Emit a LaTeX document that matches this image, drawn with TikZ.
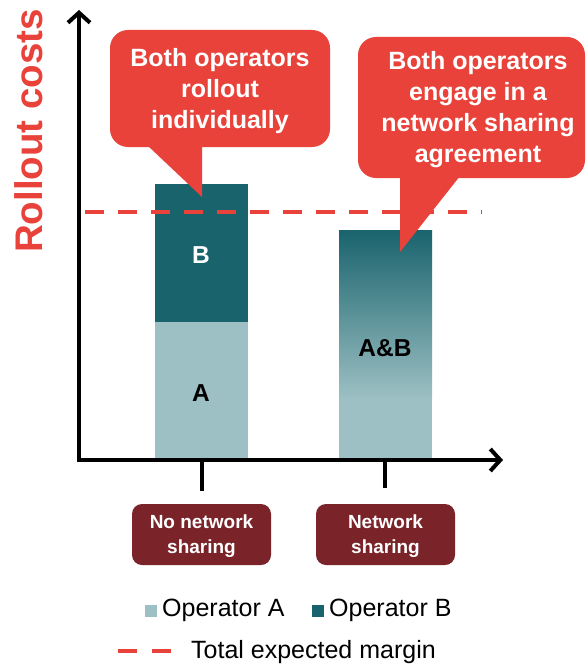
\documentclass[tikz,border=0pt]{standalone}
\usepackage{fontspec}
\setmainfont{Liberation Sans}
\usetikzlibrary{arrows.meta}
\definecolor{cred}{HTML}{E8423A}
\definecolor{tdark}{HTML}{19636D}
\definecolor{tlight}{HTML}{9CC0C3}
\definecolor{maroon}{HTML}{7A2329}
\begin{document}
\begin{tikzpicture}[x=1pt,y=-1pt,
  axisline/.style={line width=4pt,-{Straight Barb[length=10pt,width=22pt,line width=4pt]}},
  tickline/.style={line width=4pt},
  marginline/.style={cred,line width=4.5pt,dash pattern=on 19pt off 14pt},
  callout/.style={fill=cred},
  callouttext/.style={text=white,font=\bfseries\fontsize{25}{31}\selectfont,align=center,inner sep=0pt},
  scenario/.style={fill=maroon,rounded corners=10pt},
  scenariotext/.style={text=white,font=\bfseries\fontsize{19}{25}\selectfont,align=center,inner sep=0pt},
  barlabel/.style={font=\bfseries\fontsize{24.5}{28}\selectfont,inner sep=0pt},
  legendtext/.style={font=\fontsize{25}{29}\selectfont,inner sep=0pt,anchor=west},
]
\fill[white] (0,0) rectangle (586,666);
\useasboundingbox (0,0) rectangle (586,666);

% bars
\fill[tlight] (155,322) rectangle (248,460);
\fill[tdark] (155,184) rectangle (248,322);
\fill[tlight] (339,398) rectangle (432,460);
\shade[top color=tdark,bottom color=tlight] (339,230) rectangle (432,398.5);
\node[barlabel,text=white] (lblB) at (201,255) {B};
\node[barlabel] (lblA) at (201,393) {A};
\node[barlabel] (lblAB) at (385,348) {A\&B};

% margin line
\coordinate (m1) at (85,212);
\coordinate (m2) at (482,212);
\draw[marginline] (m1) -- (m2);

% axes
\coordinate (O) at (79,460);
\coordinate (ytop) at (79,10);
\coordinate (xend) at (503,460);
\draw[axisline] (79,462) -- (ytop);
\draw[axisline] (77,460) -- (xend);
\coordinate (t1a) at (202,460);
\coordinate (t1b) at (202,491);
\coordinate (t2a) at (385,460);
\coordinate (t2b) at (385,488);
\draw[tickline] (t1a) -- (t1b);
\draw[tickline] (t2a) -- (t2b);

% y label
\node[text=cred,font=\bfseries\fontsize{38.5}{42}\selectfont,rotate=90,inner sep=0pt] (ylab) at (29,131) {Rollout costs};

% callout 1
\fill[callout,rounded corners=18pt] (110,30) rectangle (330,147);
\fill[callout] (147,145) -- (202,145) -- (202,197) -- cycle;
\node[callouttext] (c1) at (220,91) {Both operators\\rollout\\individually};

% callout 2
\fill[callout,rounded corners=18pt] (358,37) rectangle (585,178);
\fill[callout] (400,176) -- (460,176) -- (400,252) -- cycle;
\node[callouttext] (c2) at (478,110) {Both operators\\engage in a\\network sharing\\agreement};

% scenario boxes
\fill[scenario] (132,504) rectangle (271,565);
\node[scenariotext] (s1) at (201.5,536) {No network\\sharing};
\fill[scenario] (316,504) rectangle (455,565);
\node[scenariotext] (s2) at (385.5,536) {Network\\sharing};

% legend
\fill[tlight] (145,605) rectangle (157,617);
\node[legendtext] (lA) at (162,610) {Operator A};
\fill[tdark] (312,605) rectangle (324,617);
\node[legendtext] (lB) at (329,610) {Operator B};
\coordinate (d1) at (118,651);
\coordinate (d2) at (173,651);
\draw[cred,line width=4.5pt,dash pattern=on 19pt off 15pt] (d1) -- (d2);
\node[legendtext] (lM) at (191,652) {Total expected margin};
\end{tikzpicture}
\end{document}
